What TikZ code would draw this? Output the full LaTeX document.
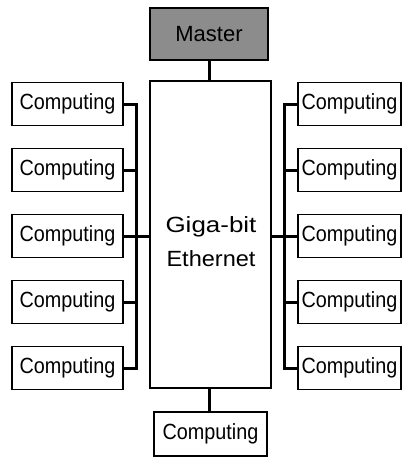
\documentclass[tikz,border=0pt]{standalone}
\usepackage{fontspec}
\setmainfont{Liberation Sans}
\begin{document}
\begin{tikzpicture}[x=1pt,y=-1pt,
  box/.style={draw=black,line width=1.3pt,inner sep=0pt,font=\fontsize{22}{26}\selectfont},
  comp/.style={box,minimum width=111pt,minimum height=43pt},
  compr/.style={box,minimum width=103pt,minimum height=43pt},
  conn/.style={line width=3pt,line cap=rect}]
\useasboundingbox (0,0) rectangle (409,459);
% master and ethernet
\node[box,fill=black!45,minimum width=118pt,minimum height=52pt] (master) at (209,34) {Master};
\node[box,minimum width=121pt,minimum height=307pt] (eth) at (210.5,234.5) {};
\node[align=center,inner sep=0pt,font=\fontsize{22}{34}\selectfont] (ethtext) at (211,242) {\scalebox{1.18}[1]{Giga-bit}\\\scalebox{1.07}[1]{Ethernet}};
\node[box,minimum width=113pt,minimum height=44pt] (bot) at (210.5,434) {\scalebox{0.9}[1]{Computing}};
% left and right computing nodes
\foreach \i/\y in {1/104,2/170,3/236,4/302,5/368}{
  \node[comp] (L\i) at (67.5,\y) {\scalebox{0.9}[1]{Computing}};
  \node[compr] (R\i) at (349.5,\y) {\scalebox{0.9}[1]{Computing}};
}
\coordinate (lbus) at (136,0);
\coordinate (rbus) at (284,0);
% connectors
\draw[conn] (master.south -| 209,0) -- (eth.north -| 209,0);
\draw[conn] (eth.south -| 209,0) -- (bot.north -| 209,0);
\foreach \i in {1,...,5}{
  \draw[conn] (L\i.east) -- (L\i.east -| lbus);
  \draw[conn] (R\i.west) -- (R\i.west -| rbus);
}
\draw[conn] (L1.east -| lbus) -- (L5.east -| lbus);
\draw[conn] (R1.west -| rbus) -- (R5.west -| rbus);
\draw[conn] (L3.east -| lbus) -- (L3.east -| eth.west);
\draw[conn] (R3.west -| rbus) -- (R3.west -| eth.east);
\end{tikzpicture}
\end{document}
